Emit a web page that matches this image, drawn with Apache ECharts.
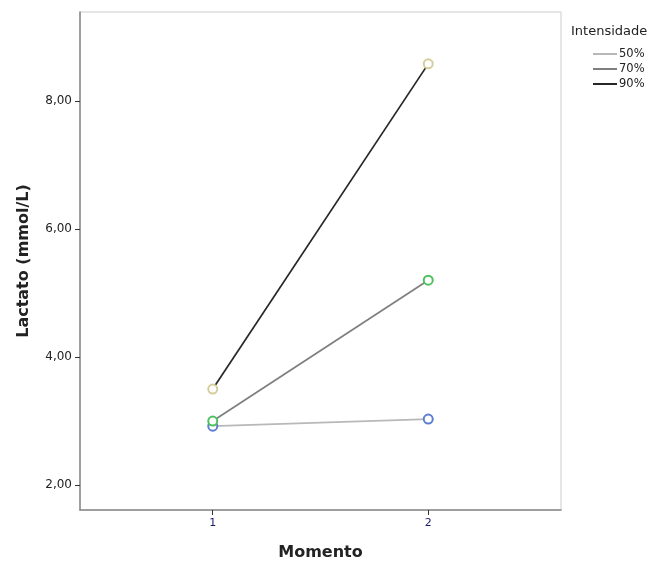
<!DOCTYPE html>
<html>
<head>
<meta charset="utf-8">
<script src="https://cdn.jsdelivr.net/npm/echarts@6/dist/echarts.min.js"></script>
<style>
  html, body { margin: 0; padding: 0; background: #fff; }
  #chart { width: 660px; height: 562px; }
</style>
</head>
<body>
<div id="chart"></div>
<script>
const momentos = [1, 2]
const intensidades = ['50%', '70%', '90%']
const lactato50 = [2.92, 3.03]
const lactato70 = [3.0, 5.2]
const lactato90 = [3.5, 8.58]
const yTicks = [2, 4, 6, 8]

const lineColors = ['#b8b8b8', '#7f7f7f', '#262626']
const markerColors = ['#5b7fd0', '#4fc05f', '#d5cd9c']

const font = 'DejaVu Sans'
const chart = echarts.init(document.getElementById('chart'))

const makeSeries = (name, values, i) => ({
  name,
  type: 'line',
  data: momentos.map((m, k) => [m, values[k]]),
  symbol: 'emptyCircle',
  symbolSize: 9,
  showSymbol: true,
  lineStyle: { color: lineColors[i], width: 1.7 },
  itemStyle: { color: markerColors[i], borderColor: markerColors[i], borderWidth: 1.4 },
  emphasis: { disabled: true },
  z: 2 + i,
})

chart.setOption({
  animation: false,
  title: {
    text: 'Intensidade',
    left: 566,
    top: 20,
    textStyle: { fontFamily: font, fontSize: 13, fontWeight: 'normal', color: '#222' },
  },
  legend: {
    orient: 'vertical',
    left: 588,
    top: 43,
    itemGap: 3,
    itemWidth: 24,
    itemHeight: 2,
    textStyle: { fontFamily: font, fontSize: 11.5, lineHeight: 12, color: '#222', padding: [0, 0, 0, -3] },
    data: intensidades.map((n, i) => ({
      name: n,
      icon: 'rect',
      itemStyle: { color: lineColors[i], borderWidth: 0 },
    })),
  },
  grid: {
    left: 80, right: 99, top: 12, bottom: 52,
    outerBoundsMode: 'none',
    containLabel: false,
    show: true, borderColor: '#cccccc', borderWidth: 1,
  },
  xAxis: {
    type: 'value',
    min: 0.384,
    max: 2.616,
    name: 'Momento',
    nameLocation: 'middle',
    nameGap: 35,
    nameTextStyle: { fontFamily: font, fontSize: 16, fontWeight: 'bold', color: '#222' },
    axisLine: { show: true, lineStyle: { color: '#888', width: 1.5 } },
    axisTick: { show: true, customValues: momentos, length: 5, lineStyle: { color: '#333' } },
    axisLabel: { customValues: momentos, fontFamily: font, fontSize: 11, color: '#1a1a6e', margin: 8 },
    splitLine: { show: false },
  },
  yAxis: {
    type: 'value',
    min: 1.61,
    max: 9.39,
    name: 'Lactato (mmol/L)',
    nameLocation: 'middle',
    nameGap: 48,
    nameTextStyle: { fontFamily: font, fontSize: 16, fontWeight: 'bold', color: '#222' },
    axisLine: { show: true, lineStyle: { color: '#888', width: 1.5 } },
    axisTick: { show: true, customValues: yTicks, length: 5, lineStyle: { color: '#333' } },
    axisLabel: {
      customValues: yTicks,
      fontFamily: font, fontSize: 12, color: '#222', margin: 8,
      formatter: v => v.toFixed(2).replace('.', ','),
    },
    splitLine: { show: false },
  },
  series: [
    makeSeries(intensidades[0], lactato50, 0),
    makeSeries(intensidades[1], lactato70, 1),
    makeSeries(intensidades[2], lactato90, 2),
  ],
})
</script>
</body>
</html>
